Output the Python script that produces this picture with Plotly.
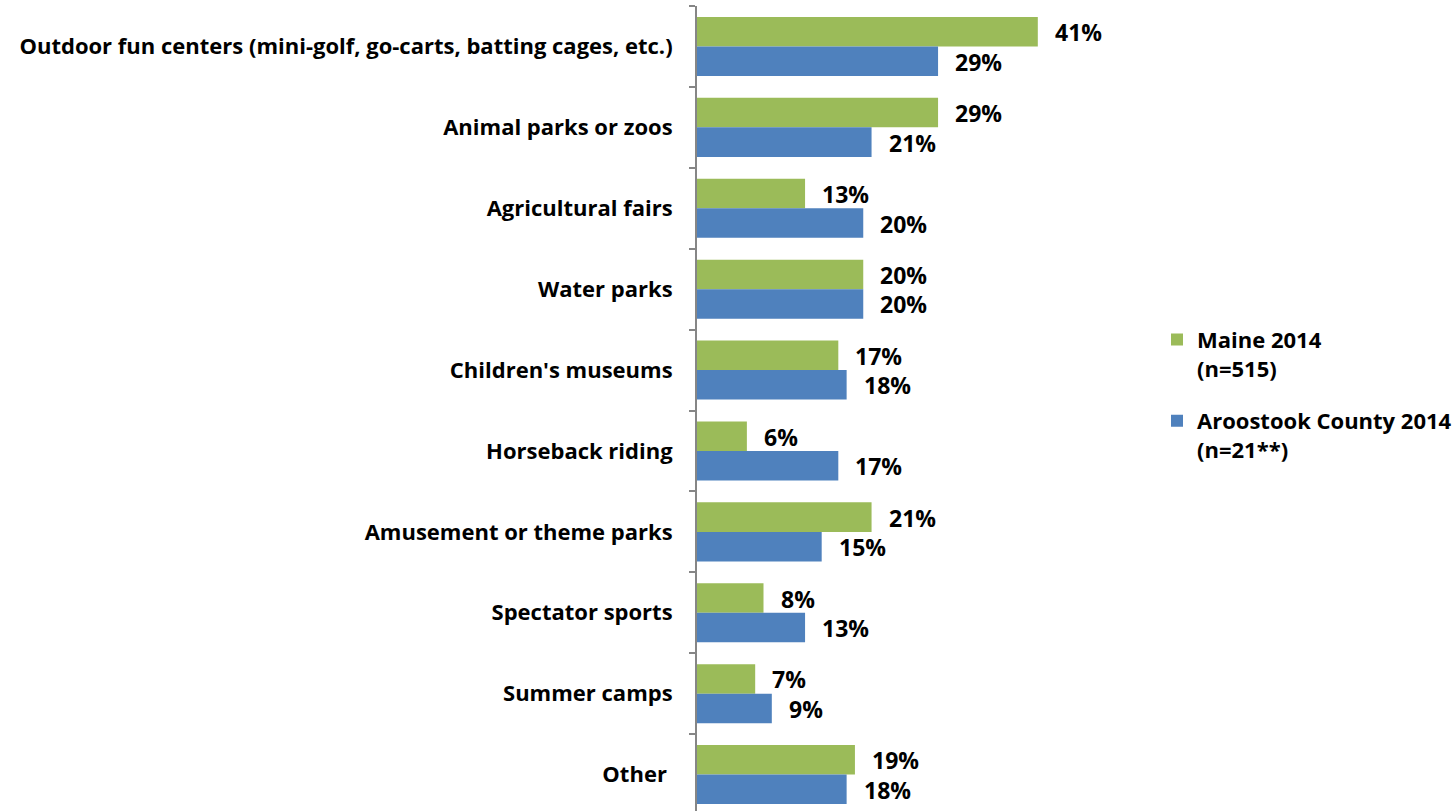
import plotly.graph_objects as go

# Activities, listed top to bottom
categories = [
    "Outdoor fun centers (mini-golf, go-carts, batting cages, etc.)",
    "Animal parks or zoos",
    "Agricultural fairs",
    "Water parks",
    "Children's museums",
    "Horseback riding",
    "Amusement or theme parks",
    "Spectator sports",
    "Summer camps",
    "Other\u00a0",
]
maine_2014 = [41, 29, 13, 20, 17, 6, 21, 8, 7, 19]
aroostook_2014 = [29, 21, 20, 20, 18, 17, 15, 13, 9, 18]

series_names = ["Maine 2014<br>(n=515)", "Aroostook County 2014<br>(n=21**)"]
colors = ["#9BBB59", "#4F81BD"]

FONT = "Open Sans"
W, H = 1456, 811
ML, MT = 697, 6
PX_PER_PCT = 8.32
X_MAX = 48
plot_w = X_MAX * PX_PER_PCT
band_px = 80.9
bargap = 0.27
bar_px = band_px * (1 - bargap) / 2

fig = go.Figure()
for i, (name, vals, col) in enumerate(zip(series_names, [maine_2014, aroostook_2014], colors)):
    fig.add_trace(go.Bar(
        y=categories, x=vals, orientation="h", name=name,
        marker=dict(color=col, line=dict(width=0)),
        legendgroup=f"g{i}", hoverinfo="skip",
    ))

# Value labels to the right of each bar
annotations = []
for vals, shift in [(maine_2014, bar_px / 2), (aroostook_2014, -bar_px / 2)]:
    for cat, v in zip(categories, vals):
        annotations.append(dict(
            x=v, y=cat, xref="x", yref="y", text=f"{v}%",
            showarrow=False, xanchor="left", yanchor="middle",
            xshift=15, yshift=shift - 0.5,
            font=dict(family=FONT, size=23, color="#000000", weight="bold"),
        ))

fig.update_layout(
    width=W, height=H,
    margin=dict(l=ML, r=W - ML - plot_w, t=MT, b=0, pad=0),
    paper_bgcolor="white", plot_bgcolor="white",
    barmode="group", bargap=bargap, bargroupgap=0,
    font=dict(family=FONT, size=22, color="#000000", weight="bold"),
    annotations=annotations,
    showlegend=True,
    legend=dict(
        x=1157 / W, xref="container", xanchor="left",
        y=0.517, yanchor="middle",
        font=dict(family=FONT, size=22, color="#000000", weight="bold"),
        valign="top", tracegroupgap=21, traceorder="grouped",
        itemwidth=30,
    ),
    xaxis=dict(
        range=[0, X_MAX], visible=False, fixedrange=True,
    ),
    yaxis=dict(
        categoryorder="array", categoryarray=categories,
        range=[9.45, -0.5],
        showline=True, linecolor="#868686", linewidth=2,
        ticks="outside", tickson="boundaries", ticklen=6,
        tickcolor="#868686", tickwidth=1.5,
        ticklabelstandoff=18,
        showgrid=False, zeroline=False,
        tickfont=dict(family=FONT, size=22, color="#000000", weight="bold"),
    ),
)

fig.write_html("out.html")
